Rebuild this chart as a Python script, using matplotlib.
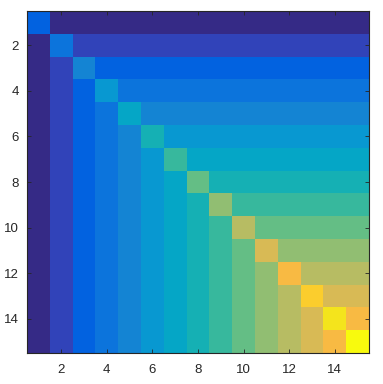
import matplotlib
matplotlib.use("Agg")
import matplotlib.pyplot as plt
import numpy as np
from matplotlib.colors import ListedColormap

# 64-entry parula-like colormap
parula = [
    [0.2081, 0.1663, 0.5292], [0.2116, 0.1898, 0.5777], [0.2123, 0.2138, 0.6270], [0.2081, 0.2386, 0.6771],
    [0.1959, 0.2645, 0.7279], [0.1707, 0.2919, 0.7792], [0.1253, 0.3242, 0.8303], [0.0591, 0.3598, 0.8683],
    [0.0117, 0.3875, 0.8820], [0.0060, 0.4086, 0.8828], [0.0165, 0.4266, 0.8786], [0.0329, 0.4430, 0.8720],
    [0.0498, 0.4586, 0.8641], [0.0629, 0.4737, 0.8554], [0.0723, 0.4887, 0.8467], [0.0779, 0.5040, 0.8384],
    [0.0793, 0.5200, 0.8312], [0.0749, 0.5375, 0.8263], [0.0641, 0.5570, 0.8240], [0.0488, 0.5772, 0.8228],
    [0.0343, 0.5966, 0.8199], [0.0265, 0.6137, 0.8135], [0.0239, 0.6287, 0.8038], [0.0231, 0.6418, 0.7913],
    [0.0228, 0.6535, 0.7768], [0.0267, 0.6642, 0.7607], [0.0384, 0.6743, 0.7436], [0.0590, 0.6838, 0.7254],
    [0.0843, 0.6928, 0.7062], [0.1133, 0.7015, 0.6859], [0.1453, 0.7098, 0.6646], [0.1801, 0.7177, 0.6424],
    [0.2178, 0.7250, 0.6193], [0.2586, 0.7317, 0.5954], [0.3022, 0.7376, 0.5712], [0.3482, 0.7424, 0.5473],
    [0.3953, 0.7459, 0.5244], [0.4420, 0.7481, 0.5033], [0.4871, 0.7491, 0.4840], [0.5300, 0.7491, 0.4661],
    [0.5709, 0.7485, 0.4494], [0.6099, 0.7473, 0.4337], [0.6473, 0.7456, 0.4188], [0.6834, 0.7435, 0.4044],
    [0.7184, 0.7411, 0.3905], [0.7525, 0.7384, 0.3768], [0.7858, 0.7356, 0.3633], [0.8185, 0.7327, 0.3498],
    [0.8507, 0.7299, 0.3360], [0.8824, 0.7274, 0.3217], [0.9139, 0.7258, 0.3063], [0.9450, 0.7261, 0.2886],
    [0.9739, 0.7314, 0.2666], [0.9938, 0.7455, 0.2403], [0.9990, 0.7653, 0.2164], [0.9955, 0.7861, 0.1967],
    [0.9880, 0.8066, 0.1794], [0.9789, 0.8271, 0.1633], [0.9697, 0.8481, 0.1475], [0.9626, 0.8705, 0.1309],
    [0.9589, 0.8949, 0.1132], [0.9598, 0.9218, 0.0948], [0.9661, 0.9514, 0.0755], [0.9763, 0.9831, 0.0538],
]
cmap = ListedColormap(parula)

# matrix values: off-diagonal min(i, j), diagonal i + 2
n = 15
row_idx = [1, 2, 3, 4, 5, 6, 7, 8, 9, 10, 11, 12, 13, 14, 15]
diag_vals = [3, 4, 5, 6, 7, 8, 9, 10, 11, 12, 13, 14, 15, 16, 17]

A = np.minimum.outer(np.array(row_idx), np.array(row_idx)).astype(float)
A[np.arange(n), np.arange(n)] = diag_vals

plt.rcParams['font.family'] = ['Liberation Sans', 'DejaVu Sans']

fig = plt.figure(figsize=(3.83, 3.84), dpi=100)
ax = fig.add_axes([27 / 383, 1 - 353 / 384, 342 / 383, 342 / 384])
ax.imshow(A, cmap=cmap, vmin=1, vmax=17, aspect='auto',
          extent=[0.5, n + 0.5, n + 0.5, 0.5], interpolation='nearest')

ticks = [2, 4, 6, 8, 10, 12, 14]
ax.set_xticks(ticks)
ax.set_yticks(ticks)
ax.tick_params(direction='in', top=True, right=True, length=3, width=0.6,
               labelsize=9.5, colors='#262626')
ax.tick_params(axis='x', pad=8)
ax.tick_params(axis='y', pad=6)
for s in ax.spines.values():
    s.set_color('#262626')
    s.set_linewidth(0.8)

fig.savefig('out.png', dpi=100)
